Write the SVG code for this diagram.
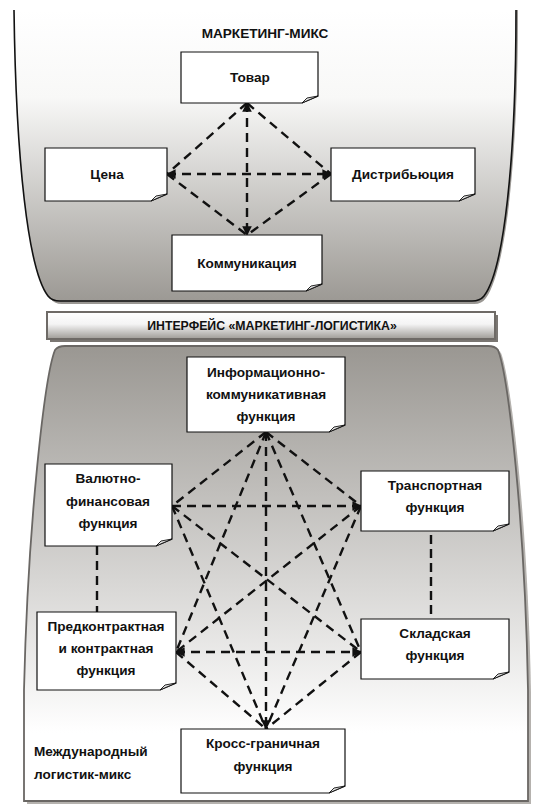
<svg xmlns="http://www.w3.org/2000/svg" width="536" height="810" viewBox="0 0 536 810">
<defs>
<style>
text{font-family:"Liberation Sans",Arial,sans-serif;font-weight:bold;font-size:13.6px;fill:#111;text-anchor:middle}
.box{fill:#fff;stroke:#111;stroke-width:1.2}
.fold{fill:#e2e2e2;stroke:#111;stroke-width:0.9}
.dash{fill:none;stroke:#111;stroke-width:2.4;stroke-dasharray:9 6}
</style>
<linearGradient id="gTop" x1="0" y1="0" x2="0" y2="1">
<stop offset="0" stop-color="#ffffff"/><stop offset="0.3" stop-color="#f8f8f7"/><stop offset="1" stop-color="#9c9994"/>
</linearGradient>
<linearGradient id="gBot" x1="0" y1="0" x2="0" y2="1">
<stop offset="0" stop-color="#9a9792"/><stop offset="0.85" stop-color="#ffffff"/><stop offset="1" stop-color="#ffffff"/>
</linearGradient>
<linearGradient id="gBar" x1="0" y1="0" x2="0" y2="1">
<stop offset="0" stop-color="#ffffff"/><stop offset="0.45" stop-color="#f4f4f4"/><stop offset="1" stop-color="#9e9b96"/>
</linearGradient>
<marker id="arr" viewBox="0 0 10 10" refX="9" refY="5" markerWidth="4" markerHeight="4" orient="auto-start-reverse" markerUnits="strokeWidth">
<path d="M0,0 L10,5 L0,10 z" fill="#111"/>
</marker>
</defs>

<!-- top container: Маркетинг-микс -->
<g id="marketing-mix">
<path d="M16,10 C18,160 30,270 50,298 Q54,304 62,304 L474,304 Q482,304 486,298 C506,270 518,160 518,10 Z" fill="#9a9793"/>
<path d="M14,10 C16,160 28,270 48,296 Q52,301 60,301 L472,301 Q480,301 484,296 C504,270 516,160 516,10 Z" fill="url(#gTop)"/>
<path d="M14,10 C16,160 28,270 48,296 Q52,301 60,301 L472,301 Q480,301 484,296 C504,270 516,160 516,10" fill="none" stroke="#111" stroke-width="1.6"/>
<text x="265" y="38">МАРКЕТИНГ-МИКС</text>
</g>

<!-- interface bar -->
<g id="interface">
<rect x="50" y="315" width="448" height="27" fill="#7a7672"/>
<rect x="47" y="312" width="448" height="27" fill="url(#gBar)" stroke="#6e6a66" stroke-width="2"/>
<text x="272" y="330" style="font-size:12.3px">ИНТЕРФЕЙС «МАРКЕТИНГ-ЛОГИСТИКА»</text>
</g>

<!-- bottom container: Международный логистик-микс -->
<g id="logistics-mix">
<path d="M67,349 L491,349 Q498,349 501,353 C511,378 528,523 531,693 L531,804 L27,804 L27,693 C31,523 48,378 58,353 Q61,349 67,349 Z" fill="#b5b2ae"/>
<path d="M65,346 L488,346 Q495,346 498,350 C508,375 525,520 528,690 L528,801 L24,801 L24,690 C28,520 45,375 55,350 Q58,346 65,346 Z" fill="url(#gBot)" stroke="#6a6764" stroke-width="1.8"/>
<text x="34" y="756" style="text-anchor:start">Международный</text>
<text x="34" y="779" style="text-anchor:start">логистик-микс</text>
</g>

<!-- connectors -->
<g id="connectors">
<!-- top -->
<path class="dash" d="M247,103 L167,174"/>
<path class="dash" d="M247,103 L331,174"/>
<path class="dash" d="M247,103 L247,235" marker-start="url(#arr)" marker-end="url(#arr)"/>
<path class="dash" d="M167,174 L331,174" marker-start="url(#arr)" marker-end="url(#arr)"/>
<path class="dash" d="M167,174 L247,235"/>
<path class="dash" d="M331,174 L247,235"/>
<!-- bottom -->
<path class="dash" d="M266,432 L172,506"/>
<path class="dash" d="M266,432 L361,506"/>
<path class="dash" d="M266,432 L176,652"/>
<path class="dash" d="M266,432 L361,652"/>
<path class="dash" d="M266,432 L266,729" marker-end="url(#arr)"/>
<path class="dash" d="M172,506 L361,506" marker-end="url(#arr)"/>
<path class="dash" d="M172,506 L361,652"/>
<path class="dash" d="M172,506 L266,729"/>
<path class="dash" d="M97,546 L97,612"/>
<path class="dash" d="M361,506 L176,652"/>
<path class="dash" d="M361,506 L266,729"/>
<path class="dash" d="M431,535 L431,614" style="stroke-dasharray:9 5"/>
<path class="dash" d="M176,652 L361,652" marker-start="url(#arr)" marker-end="url(#arr)"/>
<path class="dash" d="M176,652 L266,729"/>
<path class="dash" d="M361,652 L266,729"/>
<circle cx="266" cy="432" r="2" fill="#111"/>
</g>

<!-- top nodes -->
<g id="tovar">
<path class="box" d="M181,52 H318 V96 L302,103 H181 Z"/>
<path class="fold" d="M302,103 L307,98 L318,96 Z"/>
<text x="250" y="82">Товар</text>
</g>
<g id="tsena">
<path class="box" d="M45,148 H167 V194 L151,201 H45 Z"/>
<path class="fold" d="M151,201 L156,196 L167,194 Z"/>
<text x="107" y="179">Цена</text>
</g>
<g id="distribution">
<path class="box" d="M331,148 H475 V194 L459,201 H331 Z"/>
<path class="fold" d="M459,201 L464,196 L475,194 Z"/>
<text x="403" y="179">Дистрибьюция</text>
</g>
<g id="communication">
<path class="box" d="M172,235 H322 V284 L306,291 H172 Z"/>
<path class="fold" d="M306,291 L311,286 L322,284 Z"/>
<text x="247" y="268">Коммуникация</text>
</g>

<!-- bottom nodes -->
<g id="info">
<path class="box" d="M187,357 H345 V425 L329,432 H187 Z"/>
<path class="fold" d="M329,432 L334,427 L345,425 Z"/>
<text x="266" y="376.5">Информационно-</text>
<text x="266" y="398.5">коммуникативная</text>
<text x="266" y="420.5">функция</text>
</g>
<g id="currency">
<path class="box" d="M45,464 H172 V539 L156,546 H45 Z"/>
<path class="fold" d="M156,546 L161,541 L172,539 Z"/>
<text x="108" y="482.5">Валютно-</text>
<text x="108" y="505.5">финансовая</text>
<text x="108" y="527.5">функция</text>
</g>
<g id="transport">
<path class="box" d="M361,471 H509 V524 L493,531 H361 Z"/>
<path class="fold" d="M493,531 L498,526 L509,524 Z"/>
<text x="435" y="489.5">Транспортная</text>
<text x="435" y="511.5">функция</text>
</g>
<g id="contract">
<path class="box" d="M37,612 H176 V683 L160,690 H37 Z"/>
<path class="fold" d="M160,690 L165,685 L176,683 Z"/>
<text x="106" y="630.5">Предконтрактная</text>
<text x="106" y="652.5">и контрактная</text>
<text x="106" y="674.5">функция</text>
</g>
<g id="warehouse">
<path class="box" d="M361,619 H509 V672 L493,679 H361 Z"/>
<path class="fold" d="M493,679 L498,674 L509,672 Z"/>
<text x="435" y="637.5">Складская</text>
<text x="435" y="659.5">функция</text>
</g>
<g id="crossborder">
<path class="box" d="M181,729 H345 V786 L329,793 H181 Z"/>
<path class="fold" d="M329,793 L334,788 L345,786 Z"/>
<text x="263" y="747.5">Кросс-граничная</text>
<text x="263" y="770.5">функция</text>
</g>
</svg>
